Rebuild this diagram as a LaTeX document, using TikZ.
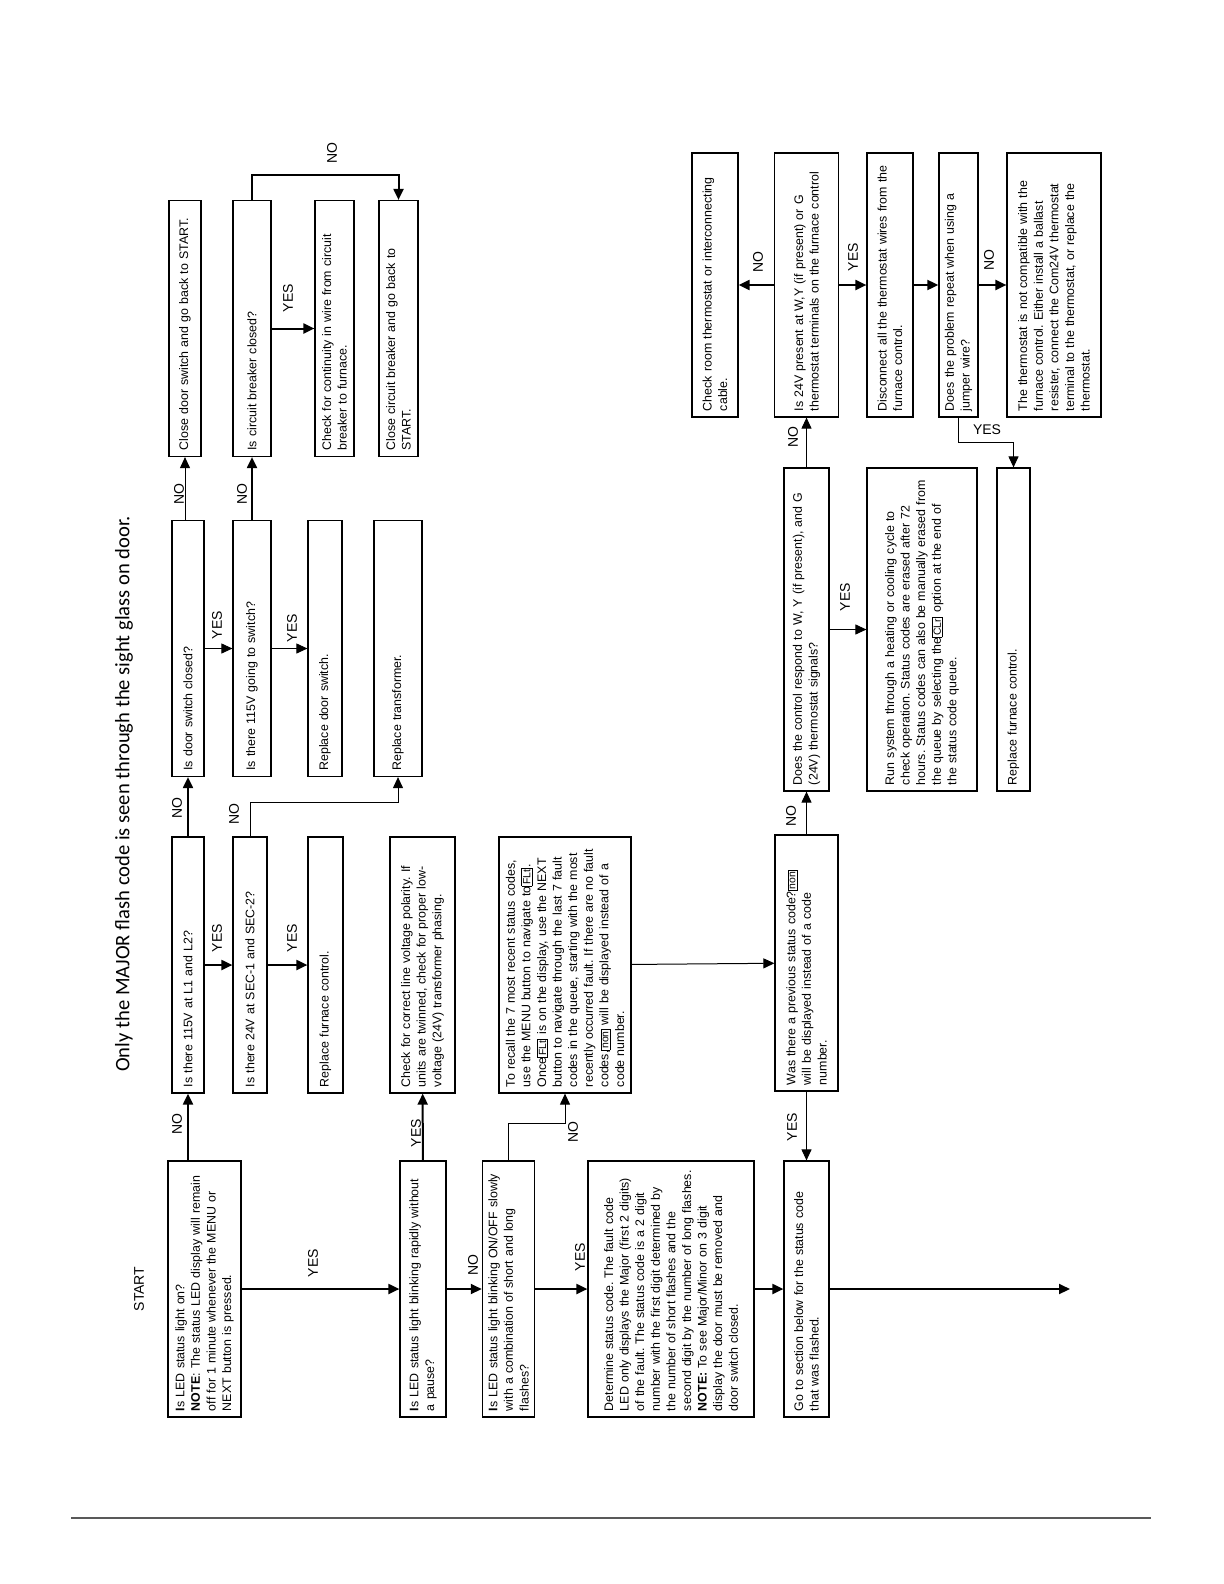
\documentclass[tikz,border=0pt]{standalone}
\usepackage{fontspec}
\setmainfont{Liberation Sans}
\newfontfamily\titlefont{Carlito}
\usetikzlibrary{arrows.meta}
\hyphenpenalty=10000
\exhyphenpenalty=10000
\frenchspacing
\newcommand{\segbox}[1]{{\setlength{\fboxsep}{0.6pt}\setlength{\fboxrule}{0.35pt}\fbox{\fontsize{5.2}{5.2}\selectfont #1}}}

\begin{document}
\begin{tikzpicture}[
    x=0.5pt, y=-0.5pt,
    box/.style={rectangle, draw=black, line width=0.6pt, rotate=90, align=left, inner sep=3pt, font=\fontsize{6.2}{7.8}\selectfont},
    rowa/.style={box, minimum width=128pt, text width=122pt},
    rowb/.style={box, minimum width=132pt, text width=126pt},
    rowc/.style={box, minimum width=161.5pt, text width=155.5pt},
    lbl/.style={rotate=90, font=\fontsize{7}{8}\selectfont, inner sep=1pt},
    arr/.style={-{Triangle[length=5.5pt, width=5pt]}, line width=1pt},
    tarr/.style={-{Triangle[length=5.5pt, width=5pt]}, line width=0.5pt}
]
    \useasboundingbox (0,0) rectangle (1224,1584);

    \node [rotate=90, font=\titlefont\fontsize{10.3}{12}\selectfont] (title) at (124,794) {Only the MAJOR flash code is seen through the sight glass on door.};
    \node [lbl] (start) at (139,1289) {START};

    % bottom row
    \node [rowa, minimum height=36.5pt] (ledon) at (204.5,1289) {\textbf{I}s LED status light on?\\\textbf{NOTE}: The status LED display will remain\\off for 1 minute whenever the MENU or\\NEXT button is pressed.};
    \node [rowa, minimum height=23pt] (rapid) at (423,1289) {\textbf{I}s LED status light blinking rapidly without\\a pause?};
    \node [rowa, minimum height=23.5pt] (slow) at (508.5,1289) {\textbf{I}s LED status light blinking ON/OFF slowly\\with a combination of short and long\\flashes?};
    \node [rowa, minimum height=83pt] (determine) at (671,1289) {Determine status code. The fault code\\LED only displays the Major (first 2 digits)\\of the fault. The status code is a 2 digit\\number with the first digit determined by\\the number of short flashes and the\\second digit by the number of long flashes.\\\textbf{NOTE:} To see Major/Minor on 3 digit\\display the door must be removed and\\door switch closed.};
    \node [rowa, minimum height=22.5pt] (gosection) at (806.5,1289) {Go to section below for the status code\\that was flashed.};
    \coordinate (out) at (1070,1289);

    % second row
    \node [rowa, minimum height=16pt] (linev) at (188,965) {Is there 115V at L1 and L2?};
    \node [rowa, minimum height=17pt] (secv) at (250,965) {Is there 24V at SEC-1 and SEC-2?};
    \node [rowa, minimum height=17.5pt] (furnace) at (325.5,965) {Replace furnace control.};
    \node [rowa, minimum height=32.5pt] (polarity) at (422.5,965) {Check for correct line voltage polarity. If\\units are twinned, check for proper low-\\voltage (24V) transformer phasing.};
    \node [rowa, minimum height=66pt] (recall) at (565,965) {To recall the 7 most recent status codes,\\use the MENU button to navigate to\segbox{FLt}.\\Once\segbox{FLt} is on the display, use the NEXT\\button to navigate through the last 7 fault\\codes in the queue, starting with the most\\recently occurred fault. If there are no fault\\codes,\segbox{non} will be displayed instead of a\\code number.};
    \node [rowa, minimum height=31.5pt] (previous) at (806.5,963) {Was there a previous status code?\segbox{non}\\will be displayed instead of a code\\number.};

    % third row
    \node [rowa, minimum height=16pt] (doorsw) at (188,648.5) {Is door switch closed?};
    \node [rowa, minimum height=19pt] (switchv) at (252,648.5) {Is there 115V going to switch?};
    \node [rowa, minimum height=17pt] (repdoor) at (325,648.5) {Replace door switch.};
    \node [rowa, minimum height=24pt] (transf) at (398,648.5) {Replace transformer.};

    % top row
    \node [rowa, minimum height=16pt] (closedoor) at (185,328.5) {Close door switch and go back to START.};
    \node [rowa, minimum height=19pt] (breaker) at (252,328.5) {Is circuit breaker closed?};
    \node [rowa, minimum height=19.5pt] (continuity) at (334.5,328.5) {Check for continuity in wire from circuit\\breaker to furnace.};
    \node [rowa, minimum height=19.5pt] (closebrk) at (398.5,328.5) {Close circuit breaker and go back to\\START.};

    % thermostat part
    \node [rowc, minimum height=22.5pt] (respond) at (806.5,629.5) {Does the control respond to W, Y (if present), and G\\(24V) thermostat signals?};
    \node [rowc, minimum height=55pt] (runsys) at (922,629.5) {Run system through a heating or cooling cycle to\\check operation. Status codes are erased after 72\\hours. Status codes can also be manually erased from\\the queue by selecting the\segbox{CLr} option at the end of\\the status code queue.};
    \node [rowc, minimum height=16.5pt] (furnace2) at (1013.5,629.5) {Replace furnace control.};

    \node [rowb, minimum height=23pt] (checkroom) at (715,285) {Check room thermostat or interconnecting\\cable.};
    \node [rowb, minimum height=32pt] (present) at (806.5,285) {Is 24V present at W,Y (if present) or G\\thermostat terminals on the furnace control};
    \node [rowb, minimum height=23pt] (disconnect) at (890,285) {Disconnect all the thermostat wires from the\\furnace control.};
    \node [rowb, minimum height=17.5pt] (jumper) at (958.5,285) {Does the problem repeat when using a\\jumper wire?};
    \node [rowb, minimum height=47pt] (notcomp) at (1054,285) {The thermostat is not compatible with the\\furnace control. Either install a ballast\\resister, connect the Com24V thermostat\\terminal to the thermostat, or replace the\\thermostat.};

    % connectors
    \draw [arr] (ledon) -- (rapid);
    \draw [arr] (rapid) -- (slow);
    \draw [arr] (slow) -- (determine);
    \draw [arr] (determine) -- (gosection);
    \draw [arr] (gosection) -- (out);
    \draw [arr] (ledon.east -| linev) -- (linev);
    \draw [arr] (rapid) -- (polarity);
    \draw [tarr] (slow.east) -- ++(0,-37) -| (recall);
    \draw [arr] (linev) -- (secv);
    \draw [arr] (secv) -- (furnace);
    \draw [arr] (linev) -- (doorsw);
    \draw [tarr] (secv.east) -- ++(0,-34) -| (transf);
    \draw [tarr] (doorsw) -- (switchv);
    \draw [tarr] (switchv) -- (repdoor);
    \draw [tarr] (doorsw.east -| closedoor) -- (closedoor);
    \draw [arr] (switchv) -- (breaker);
    \draw [arr] (breaker) -- (continuity);
    \draw [arr] (breaker.east) -- ++(0,-25) -| (closebrk);
    \draw [tarr] (recall) -- (previous);
    \draw [tarr] (previous) -- (respond);
    \draw [tarr] (previous) -- (gosection);
    \draw [tarr] (respond) -- (runsys);
    \draw [tarr] (respond) -- (present);
    \draw [arr] (present) -- (checkroom);
    \draw [arr] (present) -- (disconnect);
    \draw [arr] (disconnect) -- (jumper);
    \draw [arr] (jumper) -- (notcomp);
    \draw [tarr] (jumper.west) -- ++(0,25) -| (furnace2);

    % labels
    \node [lbl] (y1) at (313,1263) {YES};
    \node [lbl] (n1) at (473,1265) {NO};
    \node [lbl] (y2) at (580,1257) {YES};
    \node [lbl] (n2) at (177,1124) {NO};
    \node [lbl] (y3) at (416,1133) {YES};
    \node [lbl] (n3) at (573,1132) {NO};
    \node [lbl] (y4) at (792,1127) {YES};
    \node [lbl] (y5) at (217,938) {YES};
    \node [lbl] (y6) at (292,938) {YES};
    \node [lbl] (n4) at (177,808) {NO};
    \node [lbl] (n5) at (234,814) {NO};
    \node [lbl] (n6) at (791,816) {NO};
    \node [lbl] (y7) at (217,625) {YES};
    \node [lbl] (y8) at (292,628) {YES};
    \node [lbl] (n7) at (179,494) {NO};
    \node [lbl] (n8) at (242,494) {NO};
    \node [lbl] (y9) at (288,298) {YES};
    \node [lbl] (n9) at (332,153) {NO};
    \node [lbl] (n10) at (793,437) {NO};
    \node [lbl] (y10) at (845,597) {YES};
    \node [lbl] (n11) at (758,262) {NO};
    \node [lbl] (y11) at (853,257) {YES};
    \node [lbl] (n12) at (989,260) {NO};
    \node [font=\fontsize{7}{8}\selectfont, inner sep=1pt] (y12) at (987,430) {YES};

    \draw [gray!70!black, line width=0.6pt] (71,1518) -- (1151,1518);
\end{tikzpicture}
\end{document}
